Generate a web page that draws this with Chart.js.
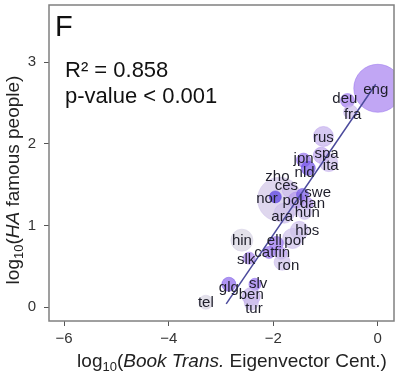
<!DOCTYPE html>
<html>
<head>
<meta charset="utf-8">
<script src="https://cdn.jsdelivr.net/npm/chart.js@4"></script>
<style>
  body { margin: 0; background: #fff; }
  canvas { display: block; }
</style>
</head>
<body>
<canvas id="c" width="398" height="375"></canvas>
<script>
// languages, log10 eigenvector centrality (x), log10 famous people (y)
const langs = ['eng','deu','fra','rus','spa','ita','jpn','nld','zho','nor','ces','pol','swe','dan','hun','ara','hbs','por','ell','cat','fin','ron','hin','slk','glg','slv','ben','tur','tel'];
const xVal  = [0, -0.58, -0.52, -1.04, -1.08, -0.94, -1.42, -1.33, -1.88, -1.96, -1.69, -1.56, -1.44, -1.35, -1.40, -1.79, -1.50, -1.63, -1.94, -2.08, -1.85, -1.83, -2.60, -2.46, -2.85, -2.35, -2.42, -2.42, -3.29];
const yVal  = [2.68, 2.53, 2.39, 2.09, 1.86, 1.77, 1.80, 1.70, 1.32, 1.35, 1.43, 1.31, 1.38, 1.27, 1.16, 1.15, 0.94, 0.84, 0.78, 0.67, 0.66, 0.55, 0.82, 0.60, 0.28, 0.28, 0.13, 0.05, 0.06];
// bubble size (speakers) and colour value
const sizeVal = [24, 7, 7, 10, 8, 9, 7, 7, 22, 6, 7, 8, 6, 6, 7, 10, 9, 10, 7, 6, 6, 8, 11, 6, 7, 6, 9, 7, 7];
const shade   = [0.62, 0.65, 0.35, 0.4, 0.45, 0.35, 0.7, 0.85, 0.22, 1.0, 0.35, 0.5, 0.85, 0.55, 0.3, 0.3, 0.3, 0.3, 0.7, 0.7, 0.5, 0.3, 0.05, 0.6, 0.75, 0.7, 0.4, 0.35, 0.05];
// where each text label sits (data units)
const labX = [-0.04, -0.63, -0.48, -1.04, -0.98, -0.90, -1.42, -1.40, -1.92, -2.12, -1.75, -1.63, -1.15, -1.25, -1.35, -1.83, -1.35, -1.58, -1.98, -2.17, -1.83, -1.71, -2.60, -2.52, -2.85, -2.29, -2.42, -2.37, -3.29];
const labY = [2.66, 2.55, 2.36, 2.07, 1.88, 1.73, 1.82, 1.65, 1.60, 1.33, 1.48, 1.30, 1.40, 1.26, 1.15, 1.10, 0.94, 0.81, 0.81, 0.67, 0.67, 0.50, 0.81, 0.58, 0.24, 0.29, 0.15, -0.02, 0.05];
// regression line
const fitX = [-2.90, -0.04];
const fitY = [0.04, 2.73];
const xTicks = [-6, -4, -2, 0];
const yTicks = [0, 1, 2, 3];

const FONT = '"Liberation Sans", Arial, Helvetica, sans-serif';

// grey -> lavender -> purple -> blue-violet
const stops = [[0, [218,217,224]], [0.35, [205,190,236]], [0.65, [165,125,240]], [1, [88,62,226]]];
function shadeColor(v, a) {
  for (let i = 1; i < stops.length; i++) {
    if (v <= stops[i][0]) {
      const [v0, c0] = stops[i-1], [v1, c1] = stops[i];
      const t = (v - v0) / (v1 - v0);
      const c = c0.map((k, j) => Math.round(k + (c1[j] - k) * t));
      return `rgba(${c[0]},${c[1]},${c[2]},${a})`;
    }
  }
  return `rgba(88,62,226,${a})`;
}

const points = langs.map((l, i) => ({ x: xVal[i], y: yVal[i], r: sizeVal[i] }));

const decor = {
  id: 'decor',
  afterDatasetsDraw(chart) {
    const { ctx, chartArea: a, scales: { x, y } } = chart;
    ctx.save();
    // labels
    ctx.fillStyle = '#1e1e2a';
    ctx.font = `15px ${FONT}`;
    ctx.textAlign = 'center';
    ctx.textBaseline = 'middle';
    langs.forEach((l, i) => {
      ctx.fillText(l, x.getPixelForValue(labX[i]), y.getPixelForValue(labY[i]));
    });
    // box
    ctx.strokeStyle = '#808080';
    ctx.lineWidth = 1.5;
    ctx.strokeRect(a.left, a.top, a.right - a.left, a.bottom - a.top);
    // panel letter and stats
    ctx.textAlign = 'left';
    ctx.textBaseline = 'alphabetic';
    ctx.fillStyle = '#111';
    ctx.font = `29px ${FONT}`;
    ctx.fillText('F', 55, 36);
    ctx.font = `22px ${FONT}`;
    ctx.fillText('R² = 0.858', 65, 77);
    ctx.fillText('p-value < 0.001', 65, 103);
    ctx.restore();
  },
  afterDraw(chart) {
    const { ctx } = chart;
    // axis titles with subscript and italic parts
    function drawTitle(parts, cx, baseY) {
      let w = 0;
      parts.forEach(p => { ctx.font = p.f; w += ctx.measureText(p.t).width; });
      let px = cx - w / 2;
      parts.forEach(p => {
        ctx.font = p.f;
        ctx.fillText(p.t, px, baseY + (p.dy || 0));
        px += ctx.measureText(p.t).width;
      });
    }
    ctx.save();
    ctx.fillStyle = '#222';
    ctx.textBaseline = 'alphabetic';
    ctx.textAlign = 'left';
    drawTitle([
      { t: 'log', f: `19px ${FONT}` },
      { t: '10', f: `13px ${FONT}`, dy: 4 },
      { t: '(', f: `19px ${FONT}` },
      { t: 'Book Trans.', f: `italic 19px ${FONT}` },
      { t: ' Eigenvector Cent.)', f: `19px ${FONT}` }
    ], 232, 367);
    ctx.translate(19, 180);
    ctx.rotate(-Math.PI / 2);
    drawTitle([
      { t: 'log', f: `19px ${FONT}` },
      { t: '10', f: `13px ${FONT}`, dy: 4 },
      { t: '(', f: `19px ${FONT}` },
      { t: 'HA', f: `italic 19px ${FONT}` },
      { t: ' famous people)', f: `19px ${FONT}` }
    ], 0, 0);
    ctx.restore();
  }
};

new Chart(document.getElementById('c'), {
  type: 'bubble',
  data: {
    datasets: [
      {
        type: 'line',
        data: fitX.map((v, i) => ({ x: v, y: fitY[i] })),
        borderColor: '#4b4a9c',
        borderWidth: 1.5,
        pointRadius: 0,
        fill: false,
        order: 0
      },
      {
        data: points,
        backgroundColor: shade.map(v => shadeColor(v, 0.72)),
        borderColor: shade.map(v => shadeColor(Math.min(1, v + 0.1), 0.5)),
        borderWidth: 1,
        clip: 0,
        order: 1
      }
    ]
  },
  options: {
    responsive: false,
    animation: false,
    layout: { autoPadding: false, padding: { top: 5, right: 4, left: 0, bottom: 0 } },
    plugins: { legend: { display: false }, tooltip: { enabled: false } },
    scales: {
      x: {
        type: 'linear', min: -6.29, max: 0.31,
        afterBuildTicks: s => { s.ticks = xTicks.map(v => ({ value: v })); },
        afterFit: s => { s.height = 54; s.paddingLeft = 0; s.paddingRight = 0; },
        border: { display: false },
        grid: { drawOnChartArea: false, drawTicks: true, tickLength: 5, color: '#555' },
        ticks: { font: { size: 15, family: FONT }, color: '#333', padding: 4,
                 callback: v => String(v).replace('-', '\u2212') }
      },
      y: {
        type: 'linear', min: -0.17, max: 3.70,
        afterBuildTicks: s => { s.ticks = yTicks.map(v => ({ value: v })); },
        afterFit: s => { s.width = 49; s.paddingTop = 0; s.paddingBottom = 0; },
        border: { display: false },
        grid: { drawOnChartArea: false, drawTicks: true, tickLength: 5, color: '#555' },
        ticks: { font: { size: 15, family: FONT }, color: '#333', padding: 8 }
      }
    }
  },
  plugins: [decor]
});
</script>
</body>
</html>
